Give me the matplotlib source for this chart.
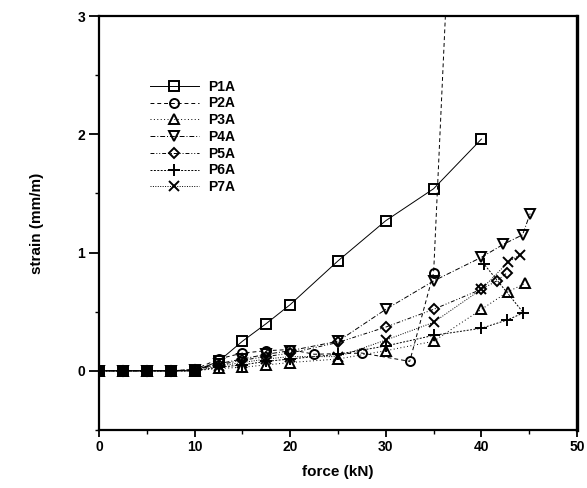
import matplotlib
matplotlib.use("Agg")
import matplotlib.pyplot as plt
from matplotlib.ticker import MultipleLocator

plt.rcParams['font.family'] = ['Liberation Sans', 'DejaVu Sans']
plt.rcParams['font.weight'] = 'bold'

p1a_x = [0, 2.5, 5, 7.5, 10, 12.5, 15, 17.5, 20, 25, 30, 35, 40]
p1a_y = [0, 0, 0, 0, 0, 0.08, 0.25, 0.40, 0.56, 0.93, 1.27, 1.54, 1.96]

p2a_x = [0, 2.5, 5, 7.5, 10, 12.5, 15, 17.5, 20, 22.5, 27.5, 32.5, 35, 36.4]
p2a_y = [0, 0, 0, 0, 0.01, 0.10, 0.15, 0.17, 0.18, 0.14, 0.15, 0.08, 0.83, 3.3]

p3a_x = [0, 2.5, 5, 7.5, 10, 12.5, 15, 17.5, 20, 25, 30, 35, 40, 42.8, 44.6]
p3a_y = [0, 0, 0, 0, 0, 0.02, 0.03, 0.05, 0.07, 0.10, 0.17, 0.25, 0.52, 0.67, 0.74]

p4a_x = [0, 2.5, 5, 7.5, 10, 12.5, 15, 17.5, 20, 25, 30, 35, 40, 42.3, 44.3, 45.1]
p4a_y = [0, 0, 0, 0, 0.01, 0.06, 0.10, 0.14, 0.17, 0.25, 0.52, 0.76, 0.96, 1.07, 1.15, 1.33]

p5a_x = [0, 2.5, 5, 7.5, 10, 12.5, 15, 17.5, 20, 25, 30, 35, 40, 41.6, 42.7]
p5a_y = [0, 0, 0, 0, 0.01, 0.05, 0.09, 0.12, 0.15, 0.24, 0.37, 0.52, 0.69, 0.76, 0.83]

p6a_x = [0, 2.5, 5, 7.5, 10, 12.5, 15, 17.5, 20, 25, 30, 35, 40, 42.7, 44.4, 40.3]
p6a_y = [0, 0, 0, 0, 0, 0.03, 0.05, 0.08, 0.10, 0.14, 0.21, 0.30, 0.36, 0.43, 0.49, 0.90]

p7a_x = [0, 2.5, 5, 7.5, 10, 12.5, 15, 17.5, 20, 25, 30, 35, 40, 42.8, 44.0]
p7a_y = [0, 0, 0, 0, 0, 0.04, 0.07, 0.10, 0.12, 0.12, 0.26, 0.41, 0.69, 0.92, 0.98]

labels = ['P1A', 'P2A', 'P3A', 'P4A', 'P5A', 'P6A', 'P7A']
markers = ['s', 'o', '^', 'v', 'D', '+', 'x']
styles = ['-', (0, (4, 3)), (0, (1, 2.5)), (0, (5, 2, 1, 2)), (0, (4, 2, 1, 2, 1, 2)), (0, (2, 1.5)), (0, (1, 1.5))]
sizes = [6.5, 6.5, 7, 7, 5.5, 8, 7.5]
series = [(p1a_x, p1a_y), (p2a_x, p2a_y), (p3a_x, p3a_y), (p4a_x, p4a_y),
          (p5a_x, p5a_y), (p6a_x, p6a_y), (p7a_x, p7a_y)]

fig = plt.figure(figsize=(5.87, 4.88), dpi=100)
ax = fig.add_axes([0.1687, 0.119, 0.8143, 0.848])

for (x, y), lab, m, ls, ms in zip(series, labels, markers, styles, sizes):
    ax.plot(x, y, linestyle=ls, color='black', linewidth=0.7, marker=m,
            markersize=ms, markerfacecolor='none', markeredgecolor='black',
            markeredgewidth=1.4, label=lab)

ax.set_xlim(0, 50)
ax.set_ylim(-0.5, 3)
ax.xaxis.set_major_locator(MultipleLocator(10))
ax.xaxis.set_minor_locator(MultipleLocator(5))
ax.yaxis.set_major_locator(MultipleLocator(1))
ax.yaxis.set_minor_locator(MultipleLocator(0.5))
ax.tick_params(which='major', direction='out', length=5, width=1.3, labelsize=10, pad=2)
ax.tick_params(axis='y', which='major', length=7, pad=3)
ax.tick_params(which='minor', direction='out', length=3, width=1.0)
for s in ax.spines.values():
    s.set_linewidth(1.6)
ax.spines['right'].set_linewidth(2.4)

ax.set_xlabel('force (kN)', fontsize=11, fontweight='bold', labelpad=8)
ax.set_ylabel('strain (mm/m)', fontsize=11, fontweight='bold', labelpad=24)

ax.legend(loc='upper left', bbox_to_anchor=(0.095, 0.86), frameon=False,
          handlelength=3.5, labelspacing=0.2, fontsize=10, handletextpad=0.7,
          borderaxespad=0)

fig.savefig('out.png', dpi=100)
